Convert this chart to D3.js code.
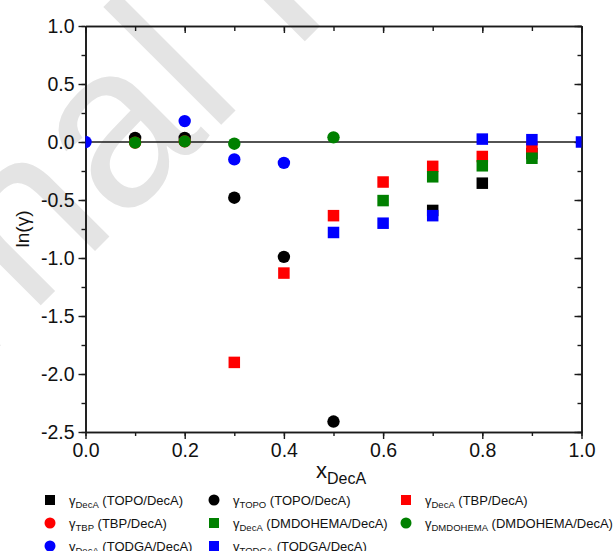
<!DOCTYPE html>
<html><head><meta charset="utf-8">
<script src="https://cdn.jsdelivr.net/npm/d3@7"></script>
<style>body{margin:0;background:#fff}svg{display:block;font-family:"Liberation Sans",Arial,sans-serif}</style>
</head><body><svg id="c" width="615" height="551"></svg>
<script>
// ---- data ----
const xTicks = [0.0, 0.2, 0.4, 0.6, 0.8, 1.0];
const yTicks = [1.0, 0.5, 0.0, -0.5, -1.0, -1.5, -2.0, -2.5];
const xLabels = ["0.0","0.2","0.4","0.6","0.8","1.0"];
const yLabels = ["1.0","0.5","0.0","-0.5","-1.0","-1.5","-2.0","-2.5"];

const decA_TOPO_x = [0.7, 0.8, 0.9];
const decA_TOPO_y = [-0.59, -0.355, -0.10];
const topo_x = [0.1, 0.2, 0.3, 0.4, 0.5];
const topo_y = [0.035, 0.035, -0.48, -0.99, -2.41];
const decA_TBP_x = [0.3, 0.4, 0.5, 0.6, 0.7, 0.8, 0.9];
const decA_TBP_y = [-1.90, -1.13, -0.635, -0.345, -0.21, -0.125, -0.045];
const tbp_x = [0.1, 0.2];
const tbp_y = [-0.005, 0.005];
const decA_DMD_x = [0.6, 0.7, 0.8, 0.9];
const decA_DMD_y = [-0.505, -0.30, -0.205, -0.14];
const dmd_x = [0.1, 0.2, 0.3, 0.5];
const dmd_y = [-0.005, 0.005, -0.015, 0.04];
const decA_TODGA_x = [0.0, 0.2, 0.3, 0.4];
const decA_TODGA_y = [0.0, 0.18, -0.15, -0.18];
const todga_x = [0.5, 0.6, 0.7, 0.8, 0.9, 1.0];
const todga_y = [-0.78, -0.70, -0.635, 0.025, 0.02, 0.0];

const series = [
  {sub:"DecA", rest:" (TOPO/DecA)", shape:"square", color:"#000000", xs:decA_TOPO_x, ys:decA_TOPO_y},
  {sub:"TOPO", rest:" (TOPO/DecA)", shape:"circle", color:"#000000", xs:topo_x, ys:topo_y},
  {sub:"DecA", rest:" (TBP/DecA)", shape:"square", color:"#ff0000", xs:decA_TBP_x, ys:decA_TBP_y},
  {sub:"TBP", rest:" (TBP/DecA)", shape:"circle", color:"#ff0000", xs:tbp_x, ys:tbp_y},
  {sub:"DecA", rest:" (DMDOHEMA/DecA)", shape:"square", color:"#008000", xs:decA_DMD_x, ys:decA_DMD_y},
  {sub:"DMDOHEMA", rest:" (DMDOHEMA/DecA)", shape:"circle", color:"#008000", xs:dmd_x, ys:dmd_y},
  {sub:"DecA", rest:" (TODGA/DecA)", shape:"circle", color:"#0000ff", xs:decA_TODGA_x, ys:decA_TODGA_y},
  {sub:"TODGA", rest:" (TODGA/DecA)", shape:"square", color:"#0000ff", xs:todga_x, ys:todga_y}
];

// ---- layout ----
const svg = d3.select("#c");
const L = 85.5, R = 581.5, T = 26, B = 432;
const x = d3.scaleLinear().domain([0, 1]).range([L, R]);
const y = d3.scaleLinear().domain([-2.5, 1.0]).range([B, T]);

// watermark
svg.append("text").attr("transform", "translate(-287,633) rotate(-45)")
  .attr("font-size", 230).attr("fill", "#e4e4e4").text("Journal Pre-proof");

// clip
svg.append("defs").append("clipPath").attr("id", "clip")
  .append("rect").attr("x", L).attr("y", T).attr("width", R - L).attr("height", B - T);

const axColor = "#1a1a1a";
// zero line
svg.append("line").attr("x1", L).attr("x2", R).attr("y1", y(0)).attr("y2", y(0))
  .attr("stroke", axColor).attr("stroke-width", 1.6);

// axes
const minorX = d3.range(0, 1.0001, 0.1);
const minorY = d3.range(-2.5, 1.0001, 0.25);
function styleAxis(g) {
  g.selectAll("path").attr("stroke", axColor).attr("stroke-width", 1.6);
  g.selectAll("line").attr("stroke", axColor).attr("stroke-width", 1.4);
}
// bottom minor + major
svg.append("g").attr("transform", `translate(0,${B})`)
  .call(d3.axisBottom(x).tickValues(minorX).tickSize(4).tickFormat("").tickSizeOuter(0)).call(styleAxis);
const gx = svg.append("g").attr("transform", `translate(0,${B})`)
  .call(d3.axisBottom(x).tickValues(xTicks).tickSize(7).tickSizeOuter(0)
    .tickFormat((d, i) => xLabels[i]).tickPadding(4)).call(styleAxis);
gx.selectAll("text").attr("font-size", 19.5).attr("fill", "#111").attr("font-family", "Liberation Sans, Arial, sans-serif");
// top (ticks inward)
svg.append("g").attr("transform", `translate(0,${T})`)
  .call(d3.axisBottom(x).tickValues(minorX).tickSize(5).tickFormat("").tickSizeOuter(0)).call(styleAxis);
svg.append("g").attr("transform", `translate(0,${T})`)
  .call(d3.axisBottom(x).tickValues(xTicks).tickSize(7).tickFormat("").tickSizeOuter(0)).call(styleAxis);
// left
svg.append("g").attr("transform", `translate(${L},0)`)
  .call(d3.axisLeft(y).tickValues(minorY).tickSize(4).tickFormat("").tickSizeOuter(0)).call(styleAxis);
const gy = svg.append("g").attr("transform", `translate(${L},0)`)
  .call(d3.axisLeft(y).tickValues(yTicks).tickSize(7).tickSizeOuter(0)
    .tickFormat((d, i) => yLabels[i]).tickPadding(4)).call(styleAxis);
gy.selectAll("text").attr("font-size", 19.5).attr("fill", "#111").attr("font-family", "Liberation Sans, Arial, sans-serif");
// right (ticks inward)
svg.append("g").attr("transform", `translate(${R},0)`)
  .call(d3.axisLeft(y).tickValues(minorY).tickSize(4).tickFormat("").tickSizeOuter(0)).call(styleAxis);
svg.append("g").attr("transform", `translate(${R},0)`)
  .call(d3.axisLeft(y).tickValues(yTicks).tickSize(7).tickFormat("").tickSizeOuter(0)).call(styleAxis);

// points
const plot = svg.append("g").attr("clip-path", "url(#clip)");
const S = 11.5, Rc = 6.2;
series.forEach(s => {
  const pts = s.xs.map((v, i) => [v, s.ys[i]]);
  if (s.shape === "square") {
    plot.selectAll(null).data(pts).enter().append("rect")
      .attr("x", d => x(d[0]) - S / 2).attr("y", d => y(d[1]) - S / 2)
      .attr("width", S).attr("height", S).attr("fill", s.color);
  } else {
    plot.selectAll(null).data(pts).enter().append("circle")
      .attr("cx", d => x(d[0])).attr("cy", d => y(d[1])).attr("r", Rc).attr("fill", s.color);
  }
});

// axis titles
const xt = svg.append("text").attr("x", 341).attr("y", 478).attr("text-anchor", "middle")
  .attr("font-size", 22).attr("fill", "#111");
xt.append("tspan").text("x");
xt.append("tspan").attr("dy", 6).attr("font-size", 16).text("DecA");

svg.append("text").attr("transform", "translate(29,229) rotate(-90)").attr("text-anchor", "middle")
  .attr("font-size", 19).attr("fill", "#111").text("ln(γ)");

// legend
const colX = [50, 214, 406];
const rowY = [500, 523, 546];
series.forEach((s, i) => {
  const cx = colX[i % 3], cy = rowY[Math.floor(i / 3)];
  if (s.shape === "square") {
    svg.append("rect").attr("x", cx - 5).attr("y", cy - 5).attr("width", 10).attr("height", 10).attr("fill", s.color);
  } else {
    svg.append("circle").attr("cx", cx).attr("cy", cy).attr("r", 5.5).attr("fill", s.color);
  }
  const t = svg.append("text").attr("x", cx + 19).attr("y", cy + 4.5).attr("font-size", 13).attr("fill", "#111");
  t.append("tspan").text("γ");
  t.append("tspan").attr("dy", 3).attr("font-size", 9.5).text(s.sub);
  t.append("tspan").attr("dy", -3).text(s.rest);
});
</script></body></html>
